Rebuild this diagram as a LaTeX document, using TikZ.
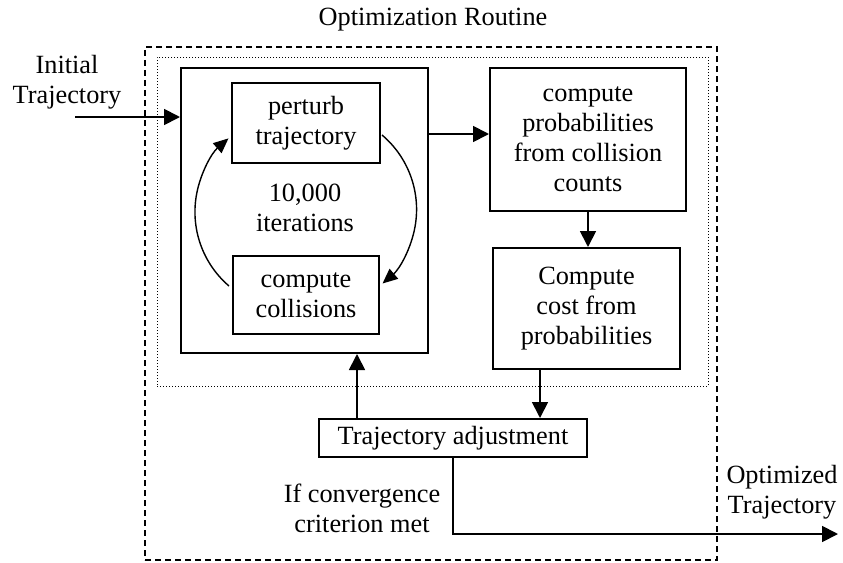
\documentclass[tikz,border=0pt]{standalone}
\usepackage{fontspec}
\setmainfont{Liberation Serif}
\usetikzlibrary{arrows.meta,calc}
\begin{document}
\begin{tikzpicture}[x=1pt,y=1pt,
  txt/.style={font=\fontsize{26.3}{30}\selectfont, align=center, inner sep=0pt},
  blk/.style={draw, line width=2pt, font=\fontsize{26.3}{30}\selectfont, align=center, inner sep=0pt},
  frame/.style={draw, line width=1.8pt, dash pattern=on 6pt off 4pt, inner sep=0pt},
  inner/.style={draw, line width=1pt, dash pattern=on 1pt off 2pt, inner sep=0pt},
  arr/.style={line width=1.8pt, -{Triangle[length=16pt,width=16pt]}},
  loop/.style={line width=1.4pt, -{Triangle[length=15pt,width=13pt]}}]
\useasboundingbox (0,0) rectangle (843,-562);

% enclosing frames
\node[frame, minimum width=572pt, minimum height=513pt] (routine) at (431,-303.5) {};
\node[inner, minimum width=551pt, minimum height=329pt] (stage) at (432.5,-221.5) {};
\node[txt] (title) at (433,-20) {Optimization Routine};

% sampling loop
\node[blk, minimum width=247pt, minimum height=285pt] (big) at (304.5,-210.5) {};
\node[blk, minimum width=148pt, minimum height=80pt] (perturb) at (306,-123) {perturb\\trajectory};
\node[blk, minimum width=146pt, minimum height=78pt] (coll) at (306,-295) {compute\\collisions};
\node[txt] (iter) at (305,-208) {10,000\\iterations};

% cost evaluation
\node[blk, minimum width=196pt, minimum height=143pt] (prob) at (588,-139.5) {compute\\probabilities\\from collision\\counts};
\node[blk, minimum width=187pt, minimum height=121pt] (cost) at (586.5,-308.5) {Compute\\cost from\\probabilities};
\node[blk, minimum width=268pt, minimum height=38pt] (adj) at (453,-438) {Trajectory adjustment};

% outside labels
\node[txt] (init) at (67,-82) {Initial\\Trajectory};
\node[txt] (opt) at (782,-492) {Optimized\\Trajectory};
\node[txt] (conv) at (362,-508) {If convergence\\criterion met};

% loop arcs
\coordinate (la) at (229,-286);
\coordinate (ra) at (382,-135);
\draw[loop] (la) arc[start angle=229.4, end angle=131, radius=97.5];
\draw[loop] (ra) arc[start angle=49.8, end angle=-49.4, radius=97.5];

% connectors
\coordinate (in0) at (75,-117);
\draw[arr] (in0) -- (in0 -| big.west);
\coordinate (mid) at (428,-134);
\draw[arr] (mid -| big.east) -- (mid -| prob.west);
\draw[arr] (prob.south) -- (prob.south |- cost.north);
\coordinate (dn) at (540,0);
\draw[arr] (dn |- cost.south) -- (dn |- adj.north);
\coordinate (up) at (357,0);
\draw[arr] (up |- adj.north) -- (up |- big.south);
\coordinate (out) at (838,-534);
\draw[arr] (adj.south) |- (out);
\end{tikzpicture}
\end{document}
